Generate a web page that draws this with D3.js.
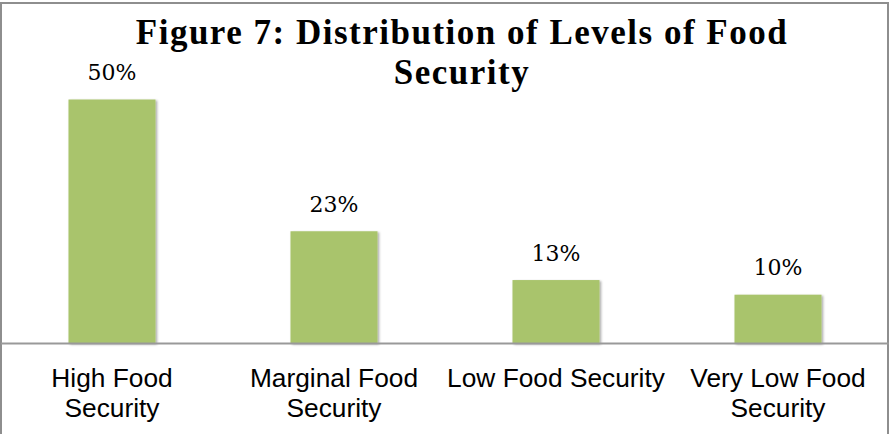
<!DOCTYPE html>
<html>
<head>
<meta charset="utf-8">
<script src="https://cdn.jsdelivr.net/npm/d3@7"></script>
<style>
  body { margin: 0; background: #fff; }
  svg { display: block; }
</style>
</head>
<body>
<div id="chart"></div>
<script>
// chart data
const categories = ["High Food Security", "Marginal Food Security", "Low Food Security", "Very Low Food Security"];
const shares = [0.50, 0.23, 0.13, 0.10];
const titleLines = ["Figure 7: Distribution of Levels of Food", "Security"];

const width = 890, height = 434;
const baseY = 343.5;

let svg = d3.select("#chart")
    .append("svg")
    .attr("width", width)
    .attr("height", height);

let defs = svg.append("defs");
let shadow = defs.append("filter").attr("id", "shadow")
    .attr("x", "-10%").attr("y", "-10%").attr("width", "130%").attr("height", "130%");
shadow.append("feDropShadow")
    .attr("dx", 1.5).attr("dy", 1)
    .attr("stdDeviation", 1.2)
    .attr("flood-color", "#000")
    .attr("flood-opacity", 0.35);

// outer frame
svg.append("rect")
    .attr("x", 1).attr("y", 3)
    .attr("width", 887).attr("height", 440)
    .attr("fill", "none")
    .attr("stroke", "#8e8e8e")
    .attr("stroke-width", 2);

let x = d3.scaleBand()
    .domain(categories)
    .range([1, 889])
    .paddingInner(0.608)
    .paddingOuter(0.304);

let y = d3.scaleLinear()
    .domain([0, 0.6])
    .range([baseY, 50.7]);

// bars
svg.append("g").selectAll("rect")
    .data(categories)
    .join("rect")
    .attr("x", function(d) { return x(d); })
    .attr("y", function(d, i) { return y(shares[i]); })
    .attr("width", x.bandwidth())
    .attr("height", function(d, i) { return y(0) - y(shares[i]); })
    .attr("fill", "#a9c46c")
    .attr("filter", "url(#shadow)");

// axis line
svg.append("line")
    .attr("x1", 1).attr("x2", 889)
    .attr("y1", baseY).attr("y2", baseY)
    .attr("stroke", "#999")
    .attr("stroke-width", 2);

// value labels
svg.append("g").selectAll("text")
    .data(categories)
    .join("text")
    .attr("x", function(d) { return x(d) + x.bandwidth() / 2; })
    .attr("y", function(d, i) { return y(shares[i]) - 19.5; })
    .attr("text-anchor", "middle")
    .style("font-family", "'DejaVu Serif', serif")
    .style("font-size", "22px")
    .attr("fill", "#000")
    .text(function(d, i) { return Math.round(shares[i] * 100) + "%"; });

// category labels, wrapped to the band step
let xAxis = svg.append("g")
    .attr("transform", `translate(0, ${baseY})`)
    .call(d3.axisBottom(x).tickSize(0).tickPadding(0));
xAxis.select(".domain").remove();
xAxis.selectAll("text")
    .style("font-family", "'Liberation Sans', Arial, sans-serif")
    .style("font-size", "26.3px")
    .attr("fill", "#000")
    .attr("dy", null)
    .attr("y", 43.5)
    .call(wrap, 219);

// title
let title = svg.append("g")
    .style("font-family", "'Liberation Serif', serif")
    .style("font-weight", "bold")
    .attr("fill", "#000");
title.selectAll("text")
    .data(titleLines)
    .join("text")
    .attr("x", 462)
    .attr("y", function(d, i) { return 44 + i * 40; })
    .attr("text-anchor", "middle")
    .style("font-size", "35px")
    .style("letter-spacing", "1.5px")
    .text(function(d) { return d; });

function wrap(sel, maxW) {
  sel.each(function() {
    let text = d3.select(this);
    let words = text.text().split(/\s+/);
    let yy = +text.attr("y");
    text.text(null);
    let line = [];
    let lineNo = 0;
    let tspan = text.append("tspan").attr("x", 0).attr("y", yy);
    words.forEach(function(word) {
      line.push(word);
      tspan.text(line.join(" "));
      if (tspan.node().getComputedTextLength() > maxW && line.length > 1) {
        line.pop();
        tspan.text(line.join(" "));
        line = [word];
        lineNo++;
        tspan = text.append("tspan").attr("x", 0).attr("y", yy + lineNo * 30).text(word);
      }
    });
  });
}
</script>
</body>
</html>
